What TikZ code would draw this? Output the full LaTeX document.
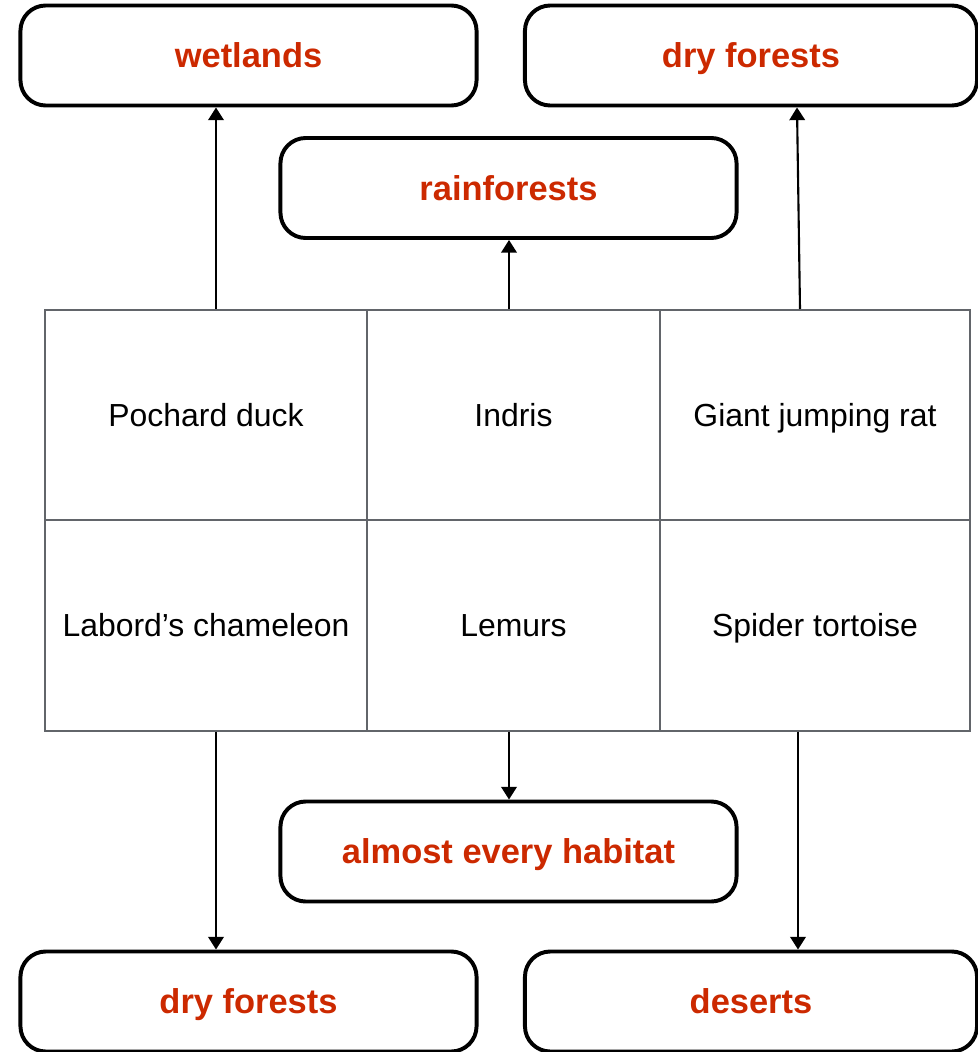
\documentclass[tikz,border=0pt]{standalone}
\usepackage{fontspec}
\setmainfont{Liberation Sans}
\usetikzlibrary{arrows.meta}
\definecolor{habitatred}{RGB}{204,41,0}
\definecolor{gridgrey}{RGB}{98,101,106}

\begin{document}
\begin{tikzpicture}[x=0.025cm, y=-0.025cm, >={Triangle[length=9pt, width=11pt]},
    place/.style={draw, line width=2.8pt, rounded corners=18pt, minimum width=11.4cm, minimum height=2.5cm,
        font=\fontsize{24.5}{28}\selectfont\bfseries, text=habitatred, text height=17.6pt, text depth=0pt},
    animal/.style={draw=gridgrey, line width=1.4pt, minimum height=5.25cm, font=\fontsize{22.7}{26}\selectfont,
        text height=16.3pt, text depth=0pt},
    link/.style={->, line width=1.5pt}]
    \useasboundingbox (0,0) rectangle (978,1052);

    % Define habitats
    \node[place] (wetlands) at (248.5, 55.5) {wetlands};
    \node[place, minimum width=11.3cm] (dryN) at (751, 55.5) {dry forests};
    \node[place] (rainforests) at (508.5, 188) {rainforests};
    \node[place] (everywhere) at (508.5, 851.5) {almost every habitat};
    \node[place] (dryS) at (248.5, 1001.5) {dry forests};
    \node[place, minimum width=11.3cm] (deserts) at (751, 1001.5) {deserts};

    % Define animals
    \node[animal, minimum width=8.05cm] (duck) at (206, 415) {Pochard duck};
    \node[animal, minimum width=7.325cm] (indris) at (513.5, 415) {Indris};
    \node[animal, minimum width=7.75cm] (rat) at (815, 415) {Giant jumping rat};
    \node[animal, minimum width=8.05cm] (chameleon) at (206, 625.5) {Labord’s chameleon};
    \node[animal, minimum width=7.325cm] (lemurs) at (513.5, 625.5) {Lemurs};
    \node[animal, minimum width=7.75cm] (tortoise) at (815, 625.5) {Spider tortoise};

    % Arrow columns
    \coordinate (colA) at (216, 0);
    \coordinate (colB) at (509, 0);
    \coordinate (colC) at (800, 0);
    \coordinate (colD) at (797, 0);
    \coordinate (colE) at (798, 0);

    % Draw edges
    \draw[link] (duck.north -| colA) -- (wetlands.south -| colA); % duck -> wetlands
    \draw[link] (indris.north -| colB) -- (rainforests.south -| colB); % indris -> rainforests
    \draw[link] (rat.north -| colC) -- (dryN.south -| colD); % rat -> dry forests
    \draw[link] (chameleon.south -| colA) -- (dryS.north -| colA); % chameleon -> dry forests
    \draw[link] (lemurs.south -| colB) -- (everywhere.north -| colB); % lemurs -> almost every habitat
    \draw[link] (tortoise.south -| colE) -- (deserts.north -| colE); % tortoise -> deserts
\end{tikzpicture}
\end{document}
